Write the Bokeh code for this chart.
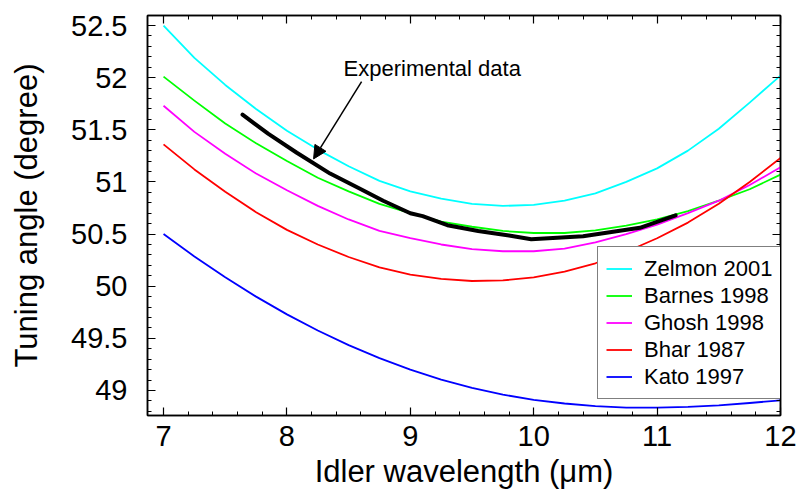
from bokeh.plotting import figure
from bokeh.models import (LinearAxis, FixedTicker, Legend, LegendItem, Arrow,
                          NormalHead, Label, Range1d)
from bokeh.embed import file_html
from bokeh.resources import INLINE

# ---------------- data ----------------
wl = [7.0, 7.25, 7.5, 7.75, 8.0, 8.25, 8.5, 8.75, 9.0, 9.25, 9.5,
      9.75, 10.0, 10.25, 10.5, 10.75, 11.0, 11.25, 11.5, 11.75, 12.0]

zelmon = [52.50, 52.19, 51.93, 51.70, 51.49, 51.31, 51.15, 51.01, 50.91, 50.84, 50.79,
          50.77, 50.78, 50.82, 50.89, 51.00, 51.13, 51.30, 51.51, 51.76, 52.02]
barnes = [52.01, 51.78, 51.56, 51.37, 51.20, 51.04, 50.91, 50.79, 50.70, 50.62, 50.57,
          50.53, 50.51, 50.51, 50.535, 50.58, 50.64, 50.72, 50.82, 50.93, 51.07]
ghosh = [51.73, 51.48, 51.27, 51.08, 50.92, 50.77, 50.64, 50.53, 50.46, 50.40, 50.355,
         50.335, 50.335, 50.36, 50.42, 50.50, 50.59, 50.70, 50.82, 50.97, 51.14]
bhar = [51.36, 51.12, 50.905, 50.71, 50.54, 50.40, 50.28, 50.18, 50.11, 50.07, 50.05,
        50.055, 50.085, 50.14, 50.22, 50.33, 50.46, 50.61, 50.79, 51.00, 51.23]
kato = [50.50, 50.285, 50.085, 49.90, 49.73, 49.575, 49.435, 49.31, 49.20, 49.105, 49.025,
        48.96, 48.91, 48.875, 48.85, 48.835, 48.835, 48.843, 48.858, 48.88, 48.905]

exp_x = [7.64, 7.85, 8.08, 8.35, 8.6, 8.78, 9.0, 9.1, 9.3, 9.55, 9.8, 9.98,
         10.4, 10.86, 11.15]
exp_y = [51.645, 51.46, 51.28, 51.08, 50.93, 50.82, 50.70, 50.672, 50.585, 50.53,
         50.487, 50.45, 50.48, 50.56, 50.68]

series_names = ["Zelmon 2001", "Barnes 1998", "Ghosh 1998", "Bhar 1987", "Kato 1997"]
series_colors = ["#00FFFF", "#00FF00", "#FF00FF", "#FF0000", "#0000FF"]
series_values = [zelmon, barnes, ghosh, bhar, kato]

x_ticks = [7, 8, 9, 10, 11, 12]
x_tick_labels = ["7", "8", "9", "10", "11", "12"]
y_ticks = [49, 49.5, 50, 50.5, 51, 51.5, 52, 52.5]
y_tick_labels = ["49", "49.5", "50", "50.5", "51", "51.5", "52", "52.5"]
x_minor = [round(6.8 + 0.2 * i, 2) for i in range(27)]
y_minor = [round(48.7 + 0.1 * i, 2) for i in range(40)]

annot_text = "Experimental data"
annot_pos = (8.459, 52.087)
arrow_from = (8.605, 51.962)
arrow_to = (8.216, 51.221)

FONT = "Liberation Sans"

# ---------------- figure ----------------
p = figure(width=797, height=493, output_backend="svg", toolbar_location=None,
           x_range=Range1d(6.87, 12.0), y_range=Range1d(48.76, 52.596),
           x_axis_type=None, y_axis_type=None,
           min_border_left=147, min_border_right=17, min_border_top=15,
           min_border_bottom=78)
p.background_fill_color = "white"
p.border_fill_color = "white"
p.outline_line_color = "black"
p.outline_line_width = 1.5
p.xgrid.visible = False
p.ygrid.visible = False


def style_axis(ax, show_labels):
    ax.axis_line_color = "black"
    ax.axis_line_width = 1.5
    ax.major_tick_in = 8
    ax.major_tick_out = 0
    ax.minor_tick_in = 4
    ax.minor_tick_out = 0
    ax.major_tick_line_color = "black"
    ax.minor_tick_line_color = "black"
    ax.major_tick_line_width = 1.2
    ax.minor_tick_line_width = 1
    ax.major_label_text_font = FONT
    ax.axis_label_text_font = FONT
    ax.axis_label_text_font_style = "normal"
    ax.axis_label_text_color = "black"
    ax.major_label_text_color = "black"
    if not show_labels:
        ax.major_label_text_font_size = "0px"
        ax.major_label_text_color = None
        ax.major_label_standoff = 0
        ax.axis_label_standoff = 0


xt = FixedTicker(ticks=x_ticks, minor_ticks=x_minor)
yt = FixedTicker(ticks=y_ticks, minor_ticks=y_minor)

xb = LinearAxis(ticker=xt, axis_label="Idler wavelength (μm)")
style_axis(xb, True)
xb.major_label_text_font_size = "29px"
xb.axis_label_text_font_size = "31px"
xb.major_label_standoff = 10
xb.axis_label_standoff = 5
xb.major_label_overrides = {t: s for t, s in zip(x_ticks, x_tick_labels)}
p.add_layout(xb, "below")

yl = LinearAxis(ticker=yt, axis_label="Tuning angle (degree)")
style_axis(yl, True)
yl.major_label_text_font_size = "29px"
yl.axis_label_text_font_size = "31px"
yl.major_label_standoff = 20
yl.axis_label_standoff = 24
yl.major_label_overrides = {t: s for t, s in zip(y_ticks, y_tick_labels)}
p.add_layout(yl, "left")

xtop = LinearAxis(ticker=xt)
style_axis(xtop, False)
p.add_layout(xtop, "above")

yr = LinearAxis(ticker=yt)
style_axis(yr, False)
p.add_layout(yr, "right")

# ---------------- curves ----------------
items = []
for name, col, vals in zip(series_names, series_colors, series_values):
    r = p.line(wl, vals, line_color=col, line_width=1.8, line_join="round")
    items.append(LegendItem(label=name, renderers=[r]))

p.line(exp_x, exp_y, line_color="black", line_width=4, line_join="round",
       line_cap="round")

# ---------------- annotation ----------------
p.add_layout(Arrow(end=NormalHead(size=13, fill_color="black", line_color="black",
                                  line_width=1),
                   x_start=arrow_from[0], y_start=arrow_from[1],
                   x_end=arrow_to[0], y_end=arrow_to[1],
                   line_color="black", line_width=1.5))
p.add_layout(Label(x=annot_pos[0], y=annot_pos[1], text=annot_text,
                   text_font=FONT, text_font_size="22px", text_baseline="middle",
                   text_align="left", text_color="black"))

# ---------------- legend ----------------
legend = Legend(items=items, location=(450, 16))
legend.label_text_font = FONT
legend.label_text_font_size = "22px"
legend.label_text_color = "black"
legend.glyph_width = 26
legend.glyph_height = 27
legend.label_height = 27
legend.label_standoff = 12
legend.spacing = 0
legend.padding = 8
legend.margin = 0
legend.border_line_color = "black"
legend.border_line_width = 1.5
legend.background_fill_alpha = 1.0
legend.background_fill_color = "white"
p.add_layout(legend, "center")

open("out.html", "w").write(file_html(p, INLINE))
